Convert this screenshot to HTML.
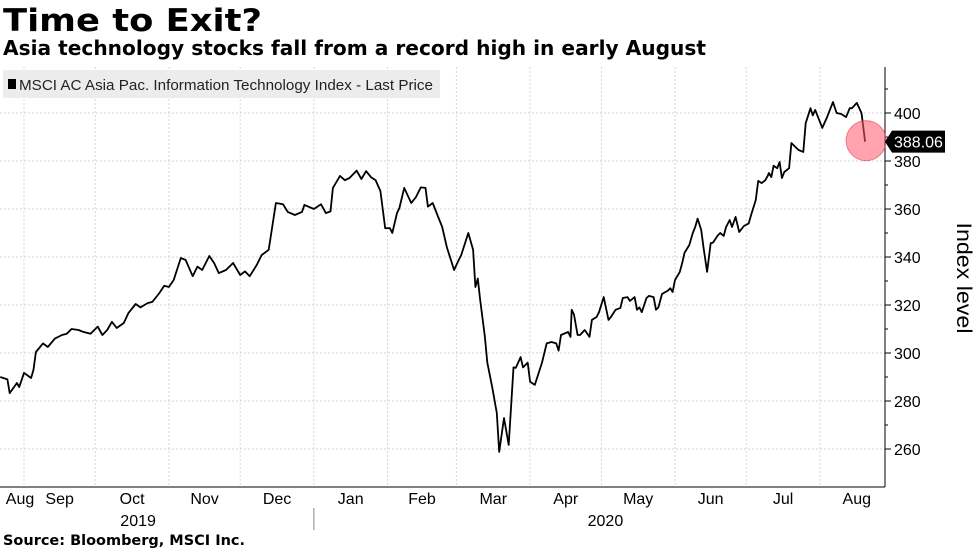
<!DOCTYPE html>
<html><head><meta charset="utf-8">
<style>
body{margin:0;background:#fff;font-family:"Liberation Sans",sans-serif;}
#wrap{position:relative;width:977px;height:549px;overflow:hidden;}
</style></head>
<body>
<div id="wrap">
<svg id="chart" width="977" height="549" xmlns="http://www.w3.org/2000/svg">
<text x="3" y="31" font-size="31" font-weight="bold" font-family="DejaVu Sans, sans-serif" textLength="259" lengthAdjust="spacingAndGlyphs">Time to Exit?</text>
<text x="3" y="55" font-size="20" font-weight="bold" font-family="DejaVu Sans, sans-serif" textLength="703" lengthAdjust="spacingAndGlyphs">Asia technology stocks fall from a record high in early August</text>
<g id="grid"></g>
<rect x="3" y="70" width="437" height="28" fill="#ececec"/>
<rect x="8" y="79" width="8" height="10" fill="#000"/>
<text x="19" y="90" font-size="15" fill="#222" font-family="Liberation Sans, sans-serif" textLength="414" lengthAdjust="spacingAndGlyphs">MSCI AC Asia Pac. Information Technology Index - Last Price</text>
<g id="axes"></g>
<path id="line" fill="none" stroke="#000" stroke-width="1.8" stroke-linejoin="round"/>
<circle id="hl" r="20" fill="rgba(255,90,110,0.55)" stroke="rgba(230,60,80,0.6)"/>
<g id="lastlbl"></g>
<text transform="translate(957,278) rotate(90)" text-anchor="middle" font-size="21" font-family="Liberation Sans, sans-serif" textLength="111" lengthAdjust="spacingAndGlyphs">Index level</text>
<text x="3" y="545" font-size="14" font-weight="bold" font-family="DejaVu Sans, sans-serif" textLength="242" lengthAdjust="spacingAndGlyphs">Source: Bloomberg, MSCI Inc.</text>
</svg>
</div>
<script>
// days since 2019-09-01
const days=[-10,-7,-6,-3,-2,0,3,4,5,8,10,13,16,18,20,23,25,28,31,33,35,37,39,42,44,47,49,52,54,57,59,61,63,66,68,71,73,75,78,80,82,85,88,91,93,95,98,100,103,105,106,109,111,114,117,118,122,125,127,129,130,133,135,137,140,142,144,146,148,150,152,154,155,157,158,160,162,163,165,167,169,170,172,174,176,178,181,183,184,187,189,190,191,192,194,195,197,199,200,202,204,206,207,209,210,212,213,215,218,220,222,224,225,226,229,230,230.5,231.5,233,234,236,238,239,241,242,244,246,247,249,251,252,254,255,257,258,259,260,262,263,265,266,267,268.5,271,272,273,274,276,277,278,280,281.5,282.5,283.5,285,286,287.5,289,290,292,293,294.5,295.5,297,298,299.5,301,303,305,306,308,309,310.5,312,313,313.5,314.5,315.5,317,318,319,320,322,323,324.5,326,328,329,331,332,333,336,338,340.5,342,344,346,347.5,348.5,350.5,352.5,354];
const values=[290,289,283.3,287.5,285.8,291.7,289.6,293,300.4,304,302.5,306,307.5,308,310,309.6,308.8,308,311,307.5,309.6,313,310.4,312.5,316.7,320.4,319,320.8,321.3,325,328,327.5,330.4,339.6,338.8,332,336,334.6,340.4,337.5,333.3,334.6,337.5,332.5,334,332,336.7,340.8,343,356,362.5,362,358.8,357.5,358.8,361.7,360,362,358.3,359,368.8,373.8,372,372.9,376,372.5,375.8,373.3,372,367.5,352,352,350,358.3,360.4,368.8,364.6,362.5,365,369,368.8,361,362.5,357.5,352.5,344,334.6,338.8,340.8,350,343,327.5,331,322,306.7,296,286,275,258.8,272.9,261.7,294,293.8,298.3,294,296,288,286.7,296,304,304.6,304,301,307.5,308.8,306.7,318,316,307.5,307.5,309.6,306.7,313.8,315,317,323.3,313.8,315,318,318.8,322.9,323.3,321.7,323.3,318,319,317,322.9,323.8,323.3,318,319,324.6,326,327,325.4,330.4,333.8,337.5,341.7,345,350,352.5,356,351.3,344,333.8,345.8,346,349,350,348.8,352.5,355.4,352.5,356.7,350.4,352.9,354,357.5,363.8,371.7,370.8,372,373.8,375,373.3,378,377,379.6,372.9,375.4,377,387.5,386,384.6,383.8,395.8,402,399,401.3,393.8,398.3,404.6,400,399.6,398.3,402,402,404.2,400,388.06];
const yTicks=[260,280,300,320,340,360,380,400];
const monthLabels=["Aug","Sep","Oct","Nov","Dec","Jan","Feb","Mar","Apr","May","Jun","Jul","Aug"];
const monthStartDays=[-31,0,30,61,91,122,153,182,213,243,274,304,335];
const yearLabels=["2019","2020"];
const lastValue=388.06;

const X=d=>24+d*2.376;
const Y=v=>113+(400-v)*2.4;
const NS="http://www.w3.org/2000/svg";
function mk(tag,attrs,parent){const e=document.createElementNS(NS,tag);for(const k in attrs)e.setAttribute(k,attrs[k]);parent.appendChild(e);return e;}
const grid=document.getElementById('grid'),axes=document.getElementById('axes');
const plotL=0,plotR=885,plotT=67,plotB=487;
yTicks.forEach(v=>{
  const l=mk('line',{x1:plotL,x2:plotR,y1:Y(v),y2:Y(v),stroke:'#d0d0d0','stroke-dasharray':'2,2','stroke-width':1},grid);
  
  
  const t=mk('line',{x1:plotR,x2:plotR+6,y1:Y(v),y2:Y(v),stroke:'#000'},axes);
  
  
  const tx=mk('text',{x:894,y:Y(v)+6,'font-size':16,'font-family':'Liberation Sans, sans-serif'},axes);
  tx.textContent=v;
  
  
});
for(let v=270;v<=410;v+=20){
  const t=mk('line',{x1:plotR,x2:plotR+3,y1:Y(v),y2:Y(v),stroke:'#000'},axes);
  
  
}
monthStartDays.forEach((d,i)=>{
  if(i>0){
    const g=mk('line',{x1:X(d),x2:X(d),y1:plotT,y2:plotB,stroke:'#d8d8d8','stroke-dasharray':'2,2'},grid);
    
    
  }
  const next=i<monthStartDays.length-1?monthStartDays[i+1]:d+31;
  let cx=(X(d)+X(next))/2; if(i===0)cx=20;
  const t=mk('text',{x:cx,y:504,'text-anchor':'middle','font-size':16,'font-family':'Liberation Sans, sans-serif'},axes);
  t.textContent=monthLabels[i];
  
  
});
const ax=mk('line',{x1:plotR,x2:plotR,y1:plotT,y2:plotB,stroke:'#000'},axes);


const bx=mk('line',{x1:0,x2:plotR,y1:plotB,y2:plotB,stroke:'#000'},axes);


const sep=mk('line',{x1:X(122),x2:X(122),y1:508,y2:530,stroke:'#888'},axes);


[[X(-31)/2+X(122)/2,yearLabels[0]],[(X(122)+plotR)/2,yearLabels[1]]].forEach(([x,s])=>{
  const t=mk('text',{x:x+6,y:526,'text-anchor':'middle','font-size':16,'font-family':'Liberation Sans, sans-serif'},axes);
  t.textContent=s;
  
  
});
document.getElementById('line').setAttribute('d',days.map((d,i)=>(i?'L':'M')+X(d).toFixed(1)+','+Y(values[i]).toFixed(1)).join(' '));
const ld=days[days.length-1],lv=values[values.length-1];
const hl=document.getElementById('hl');hl.setAttribute('cx',X(ld)+1);hl.setAttribute('cy',Y(lv)-1);
const lg=document.getElementById('lastlbl'),ly=Y(lastValue);
mk('path',{d:`M${plotR},${ly} L${plotR+7},${ly-11} L${plotR+60},${ly-11} L${plotR+60},${ly+11} L${plotR+7},${ly+11} Z`,fill:'#000'},lg);
const lt=mk('text',{x:plotR+9,y:ly+6,'font-size':16,fill:'#fff','font-family':'Liberation Sans, sans-serif'},lg);
lt.textContent=lastValue.toFixed(2);


</script>
</body></html>
